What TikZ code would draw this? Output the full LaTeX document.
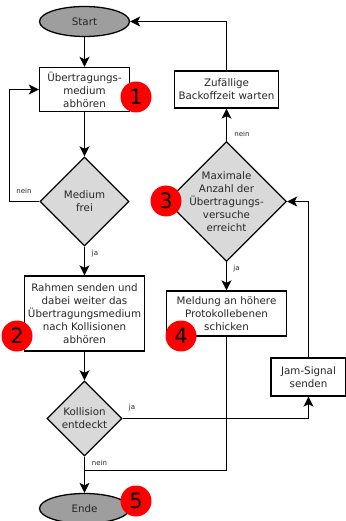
\documentclass[tikz,border=0pt]{standalone}
\usepackage{fontspec}
\setmainfont{DejaVu Sans}
\usetikzlibrary{shapes.geometric,arrows.meta}
\definecolor{textgray}{gray}{0.15}
\begin{document}
\begin{tikzpicture}[x=1pt,y=1pt]

		\tikzstyle{terminal}=[ellipse,
			fill=black!38,draw=black,line width=1.3pt,
			minimum height=30pt,minimum width=90pt,
			inner sep=0mm,text=textgray,font=\fontsize{10.3}{13}\selectfont]
		\tikzstyle{module}=[rectangle,
			fill=white,draw=black,line width=1.3pt,
			align=center,inner sep=0mm,text=textgray,
			font=\fontsize{10.3}{13}\selectfont]
		\tikzstyle{decision}=[diamond,
			fill=black!15,draw=black,line width=1.3pt,
			align=center,inner sep=-8pt,text=textgray,
			font=\fontsize{10.3}{13}\selectfont]
		\tikzstyle{arrow}=[-{Stealth[length=10pt,width=10pt,inset=2.5pt]},
			draw=black,line width=1.3pt]
		\tikzstyle{line}=[draw=black,line width=1.3pt]
		\tikzstyle{answer}=[inner sep=0mm,text=textgray,font=\fontsize{7}{8}\selectfont]
		\tikzstyle{marker}=[circle,fill=red,minimum size=31pt,
			inner sep=0mm,font=\fontsize{21}{24}\selectfont]

		\useasboundingbox (0,0) rectangle (345,-521);

		\node[terminal]	(start)	at (84.5,-21.5)	{Start};
		\node[module,below of=start,node distance=68pt,minimum width=90pt,minimum height=44pt]	(listen)	{Übertragungs-\\ medium\\ abhören};
		\node[decision,below of=listen,node distance=112pt,minimum width=89pt,minimum height=89pt]	(free)	{Medium\\ frei};
		\node[module,below of=free,node distance=112pt,minimum width=120pt,minimum height=75pt]	(send)	{Rahmen senden und\\ dabei weiter das\\ Übertragungsmedium\\ nach Kollisionen\\ abhören};
		\node[decision,below of=send,node distance=105pt,minimum width=75pt,minimum height=75pt]	(collision)	{Kollision\\ entdeckt};
		\node[terminal,below of=collision,node distance=90pt]	(end)	{Ende};

		\node[module,minimum width=104pt,minimum height=37pt]	(backoff)	at (226.5,-89.5)	{Zufällige\\ Backoffzeit warten};
		\node[decision,below of=backoff,node distance=112pt,minimum width=120pt,minimum height=120pt]	(maximum)	{Maximale\\ Anzahl der\\ Übertragungs-\\ versuche\\ erreicht};
		\node[module,below of=maximum,node distance=112pt,minimum width=120pt,minimum height=45pt]	(report)	{Meldung an höhere\\ Protokollebenen\\ schicken};
		\node[module,minimum width=75pt,minimum height=38pt]	(jam)	at (308.5,-377)	{Jam-Signal\\ senden};

		\coordinate	(merge)	at (84.5,-470.5);

		\draw[arrow]	(start)		--	(listen);
		\draw[arrow]	(listen)	--	(free);
		\draw[arrow]	(free.west)	--	++(-30,0)	|-	(listen.west);
		\draw[arrow]	(free)		--	(send);
		\draw[arrow]	(send)		--	(collision);
		\draw[arrow]	(collision)	--	(end);
		\draw[arrow]	(collision)	-|	(jam);
		\draw[arrow]	(jam)		|-	(maximum.east);
		\draw[arrow]	(maximum)	--	(report);
		\draw[arrow]	(maximum)	--	(backoff);
		\draw[arrow]	(backoff)	|-	(start);
		\draw[line]	(report)	|-	(merge);

		\node[answer]	(free-no)	at (24,-191)	{nein};
		\node[answer]	(free-yes)	at (95,-254)	{ja};
		\node[answer]	(maximum-no)	at (242,-134)	{nein};
		\node[answer]	(maximum-yes)	at (236.5,-269)	{ja};
		\node[answer]	(collision-yes)	at (132,-408)	{ja};
		\node[answer]	(collision-no)	at (99.5,-463)	{nein};

		\node[marker]	(one)	at (136,-97)	{1};
		\node[marker]	(two)	at (17,-336)	{2};
		\node[marker]	(three)	at (166,-201)	{3};
		\node[marker]	(four)	at (181,-336)	{4};
		\node[marker]	(five)	at (136,-501)	{5};

	\end{tikzpicture}
\end{document}
